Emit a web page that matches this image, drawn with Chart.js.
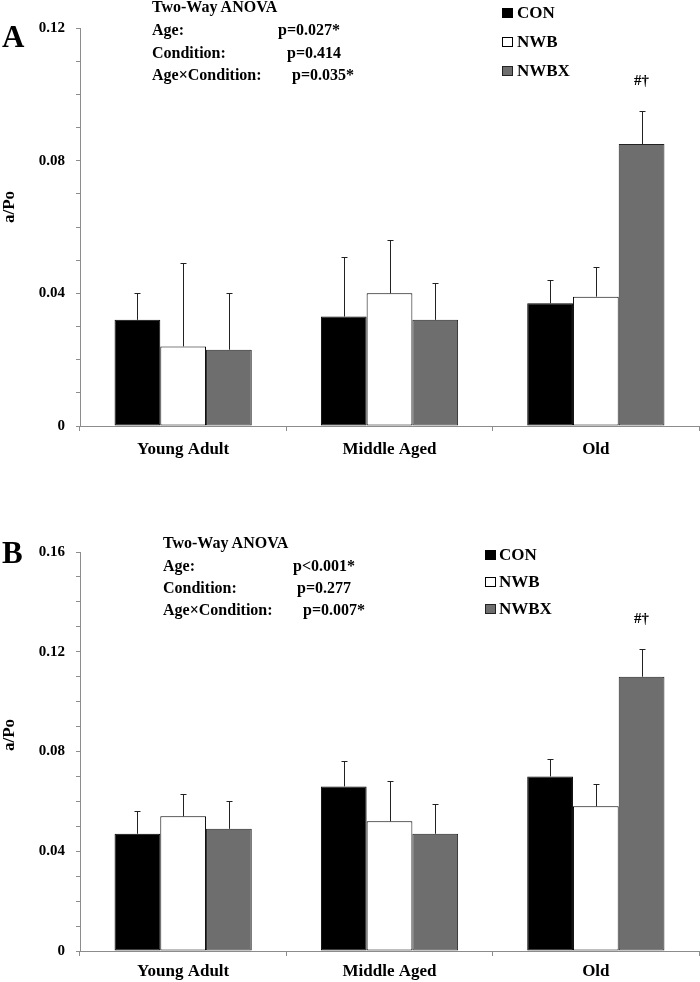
<!DOCTYPE html>
<html>
<head>
<meta charset="utf-8">
<script src="https://cdn.jsdelivr.net/npm/chart.js@4.4.0/dist/chart.umd.min.js"></script>
<style>
    body { margin: 0; background: #fff; }
    #page { position: relative; width: 700px; height: 982px; overflow: hidden; }
    canvas { position: absolute; left: 0; }
    #chartA { top: 0; }
    #chartB { top: 491px; }
    svg { position: absolute; left: 0; top: 0; pointer-events: none; }
    svg text { font-family: "Liberation Serif", "Times New Roman", serif; font-weight: bold; fill: #000; }
    .anova { font-size: 16px; }
    .leg { font-size: 17px; }
    .letter { font-size: 31px; }
    .ytitle { font-size: 17px; }
</style>
</head>
<body>
<div id="page">
    <canvas id="chartA" width="700" height="470"></canvas>
    <canvas id="chartB" width="700" height="491"></canvas>
    <svg width="700" height="982">
        <text class="letter" x="2" y="47">A</text>
        <text class="ytitle" text-anchor="middle" transform="translate(14,207) rotate(-90)">a/Po</text>
        <text class="anova" x="152" y="12">Two-Way ANOVA</text>
        <text class="anova" x="152" y="35">Age:</text>
        <text class="anova" x="278" y="35">p=0.027*</text>
        <text class="anova" x="152" y="58">Condition:</text>
        <text class="anova" x="287" y="58">p=0.414</text>
        <text class="anova" x="152" y="80">Age×Condition:</text>
        <text class="anova" x="292" y="80">p=0.035*</text>
        <rect x="502" y="8" width="11" height="10" fill="#000"/>
        <text class="leg" x="517" y="18">CON</text>
        <rect x="502.5" y="37.5" width="10" height="9" fill="#fff" stroke="#000" stroke-width="1"/>
        <text class="leg" x="517" y="47">NWB</text>
        <rect x="502.5" y="66.5" width="10" height="9" fill="#6e6e6e" stroke="#222" stroke-width="1"/>
        <text class="leg" x="517" y="76">NWBX</text>

        <text class="letter" x="2" y="563">B</text>
        <text class="ytitle" text-anchor="middle" transform="translate(14,735) rotate(-90)">a/Po</text>
        <text class="anova" x="163" y="548">Two-Way ANOVA</text>
        <text class="anova" x="163" y="571">Age:</text>
        <text class="anova" x="293" y="571">p&lt;0.001*</text>
        <text class="anova" x="163" y="593">Condition:</text>
        <text class="anova" x="297" y="593">p=0.277</text>
        <text class="anova" x="163" y="615">Age×Condition:</text>
        <text class="anova" x="303" y="615">p=0.007*</text>
        <rect x="485" y="550" width="11" height="10" fill="#000"/>
        <text class="leg" x="499" y="560">CON</text>
        <rect x="485.5" y="577.5" width="10" height="9" fill="#fff" stroke="#000" stroke-width="1"/>
        <text class="leg" x="499" y="587">NWB</text>
        <rect x="485.5" y="604.5" width="10" height="9" fill="#6e6e6e" stroke="#222" stroke-width="1"/>
        <text class="leg" x="499" y="614">NWBX</text>
    </svg>
</div>
<script>
// categories and groups
const categories = ['Young Adult', 'Middle Aged', 'Old'];
const groups = ['CON', 'NWB', 'NWBX'];

// panel A: means and (upward) error
const aCON = [0.032, 0.033, 0.037];
const aNWB = [0.024, 0.040, 0.039];
const aNWBX = [0.023, 0.032, 0.085];
const aCONerr = [0.008, 0.018, 0.007];
const aNWBerr = [0.025, 0.016, 0.009];
const aNWBXerr = [0.017, 0.011, 0.010];
const aMarks = ['', '', '#†'];
const aTicks = [0, 0.04, 0.08, 0.12];

// panel B
const bCON = [0.047, 0.066, 0.070];
const bNWB = [0.054, 0.052, 0.058];
const bNWBX = [0.049, 0.047, 0.110];
const bCONerr = [0.009, 0.010, 0.007];
const bNWBerr = [0.009, 0.016, 0.009];
const bNWBXerr = [0.011, 0.012, 0.011];
const bMarks = ['', '', '#†'];
const bTicks = [0, 0.04, 0.08, 0.12, 0.16];

const fillColors = ['#000000', '#ffffff', '#6e6e6e'];
const edgeColors = ['#000000', '#000000', '#222222'];
const axisColor = '#8c8c8c';
const serif = '"Liberation Serif", "Times New Roman", serif';

// draws error bars and the significance marks
const errorBars = {
    id: 'errorBars',
    afterDatasetsDraw(chart) {
        const ctx = chart.ctx;
        const yScale = chart.scales.y;
        ctx.save();
        chart.data.datasets.forEach((ds, i) => {
            const meta = chart.getDatasetMeta(i);
            meta.data.forEach((bar, j) => {
                const top = Math.round(yScale.getPixelForValue(ds.data[j] + ds.err[j])) + 0.5;
                const x = Math.round(bar.x) + 0.5;
                ctx.strokeStyle = '#222';
                ctx.lineWidth = 1;
                ctx.beginPath();
                ctx.moveTo(x, bar.y);
                ctx.lineTo(x, top);
                ctx.moveTo(x - 3, top);
                ctx.lineTo(x + 3, top);
                ctx.stroke();
                if (ds.marks && ds.marks[j]) {
                    ctx.fillStyle = '#000';
                    ctx.font = 'bold 15px ' + serif;
                    ctx.textAlign = 'center';
                    ctx.textBaseline = 'middle';
                    ctx.fillText(ds.marks[j], bar.x, top - 30);
                }
            });
        });
        ctx.restore();
    }
};

function makeChart(id, values, errs, marks, ticks, max, topPad, xHeight, labelPad) {
    const datasets = groups.map((g, i) => ({
        label: g,
        data: values[i],
        err: errs[i],
        marks: i === 2 ? marks : null,
        backgroundColor: fillColors[i],
        borderColor: edgeColors[i],
        borderWidth: 1,
        borderSkipped: false,
        categoryPercentage: 0.665,
        barPercentage: 1
    }));

    return new Chart(document.getElementById(id), {
        type: 'bar',
        data: { labels: categories, datasets: datasets },
        plugins: [errorBars],
        options: {
            responsive: false,
            animation: false,
            devicePixelRatio: 1,
            layout: { padding: { top: topPad, right: 1, left: 0, bottom: 0 } },
            plugins: { legend: { display: false }, tooltip: { enabled: false } },
            scales: {
                x: {
                    afterFit: (s) => { s.height = xHeight; },
                    border: { display: true, color: axisColor },
                    grid: { display: true, drawOnChartArea: false, drawTicks: true, tickLength: 5, color: axisColor, offset: true },
                    ticks: { color: '#000', padding: labelPad, font: { family: serif, size: 17, weight: 'bold' } }
                },
                y: {
                    min: 0,
                    max: max,
                    afterFit: (s) => { s.width = 80; },
                    border: { display: true, color: axisColor },
                    grid: { display: true, drawOnChartArea: false, drawTicks: true, tickLength: 4, color: axisColor },
                    ticks: {
                        stepSize: 0.01,
                        autoSkip: false,
                        padding: 11,
                        color: '#000',
                        font: { family: serif, size: 15, weight: 'bold' },
                        callback: (v) => {
                            const t = ticks.find(k => Math.abs(k - v) < 1e-9);
                            return t === undefined ? '' : String(t);
                        }
                    }
                }
            }
        }
    });
}

makeChart('chartA', [aCON, aNWB, aNWBX], [aCONerr, aNWBerr, aNWBXerr], aMarks, aTicks, 0.12, 28, 44, 8);
makeChart('chartB', [bCON, bNWB, bNWBX], [bCONerr, bNWBerr, bNWBXerr], bMarks, bTicks, 0.16, 61, 31, 5);
</script>
</body>
</html>
